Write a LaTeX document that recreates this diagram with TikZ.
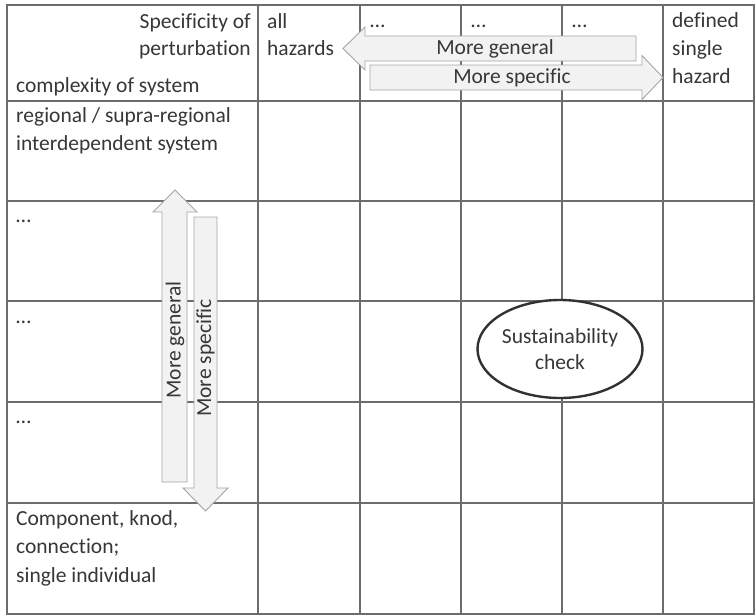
\documentclass[tikz,border=0pt]{standalone}
\usepackage{fontspec}
\setmainfont{Carlito}[Ligatures=NoCommon]
\usetikzlibrary{shapes.geometric}
\definecolor{gridc}{RGB}{108,108,108}
\definecolor{textc}{RGB}{55,55,55}
\definecolor{arrfill}{RGB}{242,242,242}
\definecolor{arrdraw}{RGB}{165,165,165}
\definecolor{elldraw}{RGB}{50,50,50}
\begin{document}
\begin{tikzpicture}[x=1pt,y=-1pt,
  gridline/.style={draw=gridc, line width=1.7pt},
  arrowbox/.style={draw=arrdraw, fill=arrfill, line width=0.9pt, line join=miter},
  txt/.style={inner sep=0pt, text=textc, font=\fontsize{21.5}{28}\selectfont},
  lt/.style={txt, anchor=base west},
  rt/.style={txt, anchor=base east},
  ct/.style={txt, anchor=center},
  checkell/.style={ellipse, draw=elldraw, fill=white, line width=2.4pt, minimum width=165pt, minimum height=98pt, inner sep=0pt, align=center, text=textc, font=\fontsize{21.5}{26}\selectfont}
]
\useasboundingbox (0,0) rectangle (756,616);
\fill[white] (0,0) rectangle (756,616);
% grid
\foreach \x in {258,360,461,562,663} \draw[gridline] (\x,5) -- (\x,614);
\foreach \y in {101,201,301,402,503} \draw[gridline] (7,\y) -- (754,\y);
\draw[gridline] (7,5) rectangle (754,614);
% header texts
\node[rt] (spec1) at (251,28) {Specificity of};
\node[rt] (spec2) at (251,55) {perturbation};
\node[lt] (cplx) at (16,92) {complexity of system};
\node[lt] (all1) at (267,28) {all};
\node[lt] (all2) at (267,55) {hazards};
\node[lt] (d1) at (370,27) {…};
\node[lt] (d2) at (471,27) {…};
\node[lt] (d3) at (572,27) {…};
\node[lt] (def1) at (672,27) {defined};
\node[lt] (def2) at (672,55) {single};
\node[lt] (def3) at (672,83) {hazard};
% row texts
\node[lt] (r1a) at (16,122) {regional / supra-regional};
\node[lt] (r1b) at (16,150) {interdependent system};
\node[lt] (r2) at (16,222) {…};
\node[lt] (r3) at (16,323) {…};
\node[lt] (r4) at (16,423) {…};
\node[lt] (r5a) at (16,525) {Component, knod,};
\node[lt] (r5b) at (16,553) {connection;};
\node[lt] (r5c) at (16,582) {single individual};
% horizontal arrows
\draw[arrowbox] (636,36) -- (365,36) -- (365,27) -- (343,48.5) -- (365,70) -- (365,61) -- (636,61) -- cycle;
\node[ct] (hgen) at (495,48.5) {More general};
\draw[arrowbox] (370,65) -- (642,65) -- (642,55.5) -- (663,77.5) -- (642,99.5) -- (642,90) -- (370,90) -- cycle;
\node[ct] (hspec) at (512,77.5) {More specific};
% vertical arrows
\draw[arrowbox] (162,482) -- (162,212) -- (153,212) -- (175,190) -- (197,212) -- (187,212) -- (187,482) -- cycle;
\node[ct, rotate=90] (vgen) at (175,340) {More general};
\draw[arrowbox] (194,217) -- (217,217) -- (217,488) -- (228,488) -- (205.5,511) -- (183,488) -- (194,488) -- cycle;
\node[ct, rotate=90] (vspec) at (205.5,358) {More specific};
% ellipse
\node[checkell] (check) at (560,349) {Sustainability\\check};
\end{tikzpicture}
\end{document}
